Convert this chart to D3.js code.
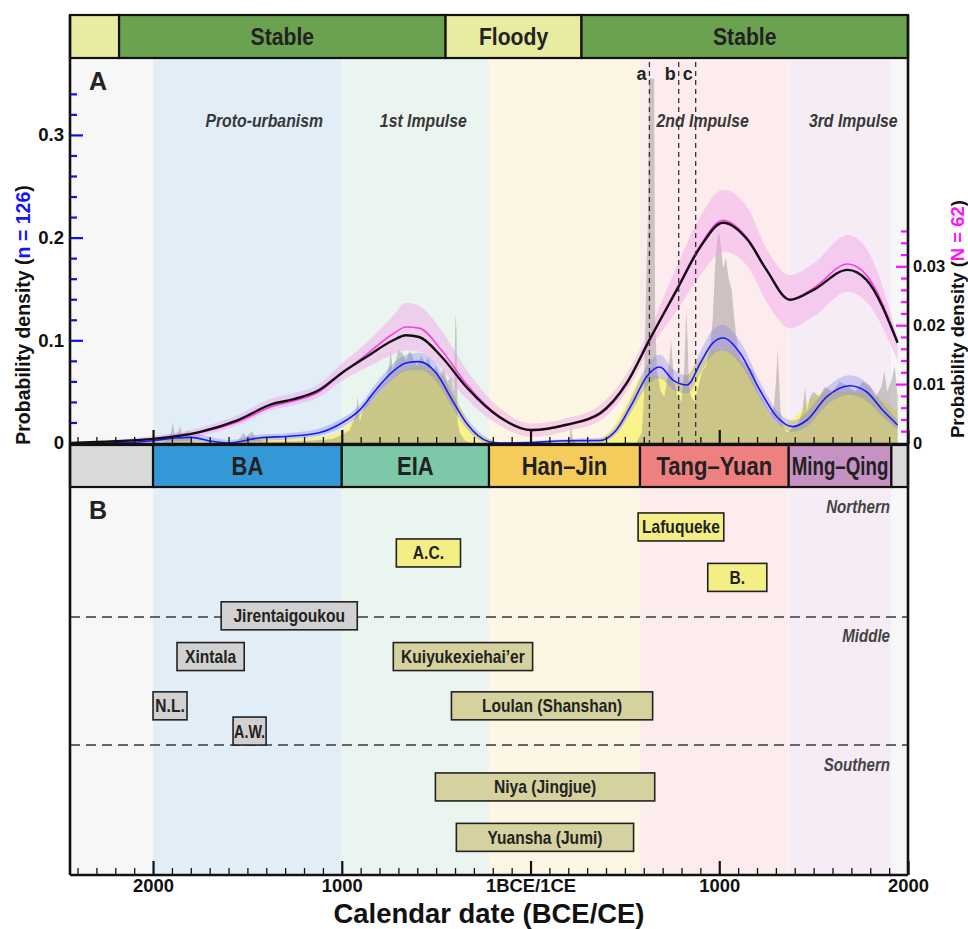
<!DOCTYPE html>
<html><head><meta charset="utf-8">
<script src="https://cdn.jsdelivr.net/npm/d3@7"></script>
<style>body{margin:0;background:#fff}svg{display:block}</style>
</head><body>
<svg id="chart" width="968" height="929"></svg>
<script>
// ---------------- DATA ----------------
const climateNames  = ["", "Stable", "Floody", "Stable"];
const climateStarts = [-2440, -2180, -450, 270];
const climateEnds   = [-2180, -450, 270, 2000];
const climateTypes  = ["floody", "stable", "floody", "stable"];

const periodNames  = ["", "BA", "EIA", "Han–Jin", "Tang–Yuan", "Ming–Qing", ""];
const periodStarts = [-2440, -2000, -1000, -220, 580, 1368, 1912];
const periodEnds   = [-2000, -1000, -220, 580, 1368, 1912, 2000];

const impulseNames = ["Proto-urbanism", "1st Impulse", "2nd Impulse", "3rd Impulse"];
const impulseYears = [-1411, -568, 912, 1710];

const eventNames = ["a", "b", "c"];
const eventYears = [630, 785, 875];

const xMajorTicks = [-2000, -1000, 0, 1000, 2000];
const leftTicks  = [0, 0.1, 0.2, 0.3];
const rightTicks = [0, 0.01, 0.02, 0.03];

// smoothed density (N = 62), right axis
const kdeYears = [-2440,-2200,-2000,-1750,-1550,-1370,-1260,-1120,-1000,-870,-730,-660,-590,-470,-340,-165,5,190,370,510,630,775,900,1020,1150,1250,1375,1500,1680,1780,1945];
const blackVals = [0,0.0003,0.0007,0.0019,0.0039,0.0066,0.0074,0.0090,0.0119,0.0146,0.0174,0.0183,0.0180,0.0146,0.0095,0.0044,0.0022,0.0031,0.0051,0.0102,0.0175,0.0260,0.0333,0.0374,0.0345,0.0294,0.0243,0.0260,0.0294,0.0277,0.0170];
const magentaVals = [0,0.0003,0.0007,0.0018,0.0036,0.0062,0.0071,0.0087,0.0118,0.0150,0.0185,0.0197,0.0195,0.0157,0.0100,0.0045,0.0021,0.0030,0.0049,0.0100,0.0175,0.0262,0.0336,0.0378,0.0347,0.0295,0.0244,0.0263,0.0304,0.0285,0.0172];
const pinkHi = [0,0.0006,0.0012,0.0026,0.0048,0.0076,0.0084,0.0100,0.0135,0.0170,0.0215,0.0238,0.0233,0.0190,0.0125,0.0060,0.0033,0.0042,0.0065,0.0118,0.0192,0.0300,0.0385,0.0430,0.0400,0.0330,0.0285,0.0305,0.0353,0.0330,0.0180];
const pinkLo = [0,0.0001,0.0003,0.0012,0.0030,0.0056,0.0064,0.0078,0.0105,0.0128,0.0150,0.0157,0.0155,0.0125,0.0075,0.0030,0.0010,0.0020,0.0038,0.0088,0.0158,0.0225,0.0285,0.0325,0.0300,0.0240,0.0195,0.0215,0.0257,0.0240,0.0140];

// smoothed density (n = 126), left axis
const blueYears = [-2440,-2150,-2000,-1880,-1800,-1700,-1600,-1440,-1260,-1120,-1000,-900,-820,-730,-660,-590,-500,-415,-340,-220,-160,10,190,370,455,540,615,685,755,830,900,965,1020,1110,1215,1305,1390,1465,1570,1690,1780,1865,1945];
const blueVals = [0,0.0005,0.0022,0.0050,0.0055,0.0020,0.0000,0.0049,0.0068,0.0100,0.0195,0.0330,0.0516,0.0694,0.0779,0.0792,0.0681,0.0418,0.0195,0.0013,0,0.0005,0.0022,0.0025,0.0127,0.0389,0.0646,0.0740,0.0613,0.0565,0.0779,0.0973,0.1022,0.0876,0.0516,0.0256,0.0159,0.0224,0.0451,0.0558,0.0499,0.0321,0.0175];
const blueHi = [0,0.002,0.005,0.009,0.010,0.006,0.003,0.008,0.010,0.014,0.024,0.038,0.058,0.077,0.086,0.088,0.077,0.049,0.025,0.004,0.001,0.002,0.004,0.005,0.017,0.046,0.075,0.086,0.072,0.066,0.089,0.110,0.115,0.099,0.060,0.032,0.022,0.030,0.054,0.066,0.059,0.039,0.022];
const blueLo = [0,0,0.000,0.002,0.002,0,0,0.002,0.004,0.007,0.015,0.028,0.046,0.062,0.070,0.071,0.060,0.035,0.014,0,0,0,0.001,0.001,0.009,0.032,0.055,0.063,0.052,0.048,0.068,0.086,0.090,0.077,0.044,0.020,0.011,0.016,0.037,0.047,0.041,0.026,0.013];

// yellow density, left axis
const yellowYears = [-2440,-1950,-1900,-1800,-1700,-1550,-1450,-1300,-1100,-1000,-900,-800,-700,-600,-500,-400,-300,-200,-150,150,200,300,400,500,600,700,780,850,950,1050,1150,1250,1320,1400,1500,1600,1700,1800,1945];
const yellowVals = [0,0,0.004,0.004,0.001,0.002,0.005,0.004,0.006,0.012,0.030,0.048,0.068,0.075,0.070,0.045,0.012,0.003,0,0,0.002,0.001,0.008,0.035,0.066,0.065,0.058,0.070,0.090,0.090,0.070,0.032,0.018,0.025,0.045,0.050,0.050,0.048,0.030];

// summed probability (grey), left axis
const sumYears = [-2440,-1950,-1910,-1895,-1885,-1870,-1855,-1845,-1830,-1815,-1805,-1790,-1760,
 -1560,-1535,-1520,-1505,-1490,-1475,-1455,-1430,-1400,
 -1200,-1050,-1000,-960,-930,-915,-905,-890,-860,-830,-800,-770,-750,-740,-730,-715,-700,-680,-660,-640,-620,-600,-580,-560,-540,-520,-500,-480,-460,-440,-420,-405,-398,-392,-386,-375,-350,-320,
 190,205,215,225,240,
 560,590,600,612,622,628,655,660,670,690,710,730,745,760,780,800,815,825,832,840,850,870,890,910,930,950,965,980,990,1000,1010,1020,1035,1050,1065,1080,1100,1120,1150,1180,1210,1240,1270,1290,1300,1310,1325,1340,1360,1390,1420,1440,1455,1465,1480,1500,1530,1560,1600,1640,1680,1720,1760,1800,1830,1860,1875,1890,1910,1930,1945];
const sumVals = [0,0,0.006,0.020,0.008,0.010,0.016,0.006,0.009,0.013,0.004,0.002,0,
 0,0.006,0.010,0.006,0.009,0.011,0.005,0.003,0.001,
 0.002,0.004,0.008,0.012,0.025,0.045,0.020,0.030,0.045,0.050,0.055,0.060,0.075,0.090,0.070,0.080,0.090,0.088,0.080,0.090,0.082,0.075,0.085,0.078,0.083,0.070,0.075,0.065,0.072,0.060,0.065,0.050,0.125,0.110,0.020,0.010,0.003,0,
 0,0.005,0.016,0.004,0,
 0,0.010,0.040,0.150,0.220,0.355,0.355,0.120,0.070,0.050,0.045,0.070,0.100,0.060,0.045,0.040,0.075,0.130,0.100,0.055,0.045,0.040,0.055,0.070,0.075,0.090,0.120,0.180,0.200,0.205,0.190,0.170,0.180,0.160,0.150,0.120,0.090,0.080,0.075,0.070,0.050,0.040,0.030,0.035,0.060,0.090,0.030,0.015,0.010,0.015,0.020,0.030,0.055,0.030,0.045,0.050,0.045,0.055,0.050,0.060,0.055,0.050,0.060,0.055,0.045,0.055,0.070,0.050,0.060,0.075,0.045];

// Panel B sites
const siteNames  = ["Lafuqueke","A.C.","B.","Jirentaigoukou","Xintala","Kuiyukexiehai’er","N.L.","Loulan (Shanshan)","A.W.","Niya (Jingjue)","Yuansha (Jumi)"];
const siteStarts = [570,-711,939,-1639,-1873,-727,-2000,-419,-1576,-504,-393];
const siteEnds   = [1024,-371,1252,-918,-1517,11,-1820,647,-1401,658,546];
const siteLevels = [10.3,17.0,23.3,33.2,43.7,43.7,56.4,56.4,62.9,77.3,90.3];
const siteGroups = ["north","north","north","grey","grey","khaki","grey","khaki","grey","khaki","khaki"];
const regionNames  = ["Northern","Middle","Southern"];
const regionLevels = [5.0, 38.2, 71.5];
const dividerLevels = [33.5, 66.5];

// ---------------- LAYOUT / STYLE ----------------
const L = 70, R = 908, climTop = 15, climBot = 58, aBot = 444, perTop = 445, perBot = 487, bBot = 875;
const sans = "'Liberation Sans',Arial,Helvetica,sans-serif";
const bgColors = ["#f7f7f7","#e1eef8","#ebf5ef","#fef6e4","#fdecee","#f6ecf5","#f7f7f7"];
const barColors = ["#d9d9d9","#3399d6","#7dc8a9","#f5cb5b","#ef8080","#c592c3","#d9d9d9"];
const climColors = {stable:"#6aa250", floody:"#e8eca1"};
const siteFill = {north:"#f4ef84", grey:"#d1d1d1", khaki:"#d6d2a0"};

const svg = d3.select("#chart");
const x = d3.scaleLinear().domain([-2440, 2000]).range([L, R]);
const yL = d3.scaleLinear().domain([0, 0.375]).range([443, 57.9]);
const yR = d3.scaleLinear().domain([0, 0.0654]).range([443, 57.8]);
const yB = d3.scaleLinear().domain([0, 100]).range([perBot, bBot]);

// condensed text helper
function ctext(px, py, str, size, sx, anchor, opts = {}) {
  const t = svg.append("text").attr("transform", `translate(${px},${py}) scale(${sx},1)`)
    .attr("text-anchor", anchor).attr("font-family", sans).attr("font-weight", opts.weight || "bold")
    .attr("font-style", opts.style || "normal").attr("font-size", size).attr("fill", opts.fill || "#222").text(str);
  if (opts.maxW) {
    const len = t.node().getComputedTextLength();
    if (len * sx > opts.maxW) t.attr("textLength", opts.maxW / sx).attr("lengthAdjust", "spacingAndGlyphs");
  }
  return t;
}

// backgrounds
const bg = svg.append("g");
periodNames.forEach((n, i) => {
  bg.append("rect").attr("x", x(periodStarts[i])).attr("y", climBot)
    .attr("width", x(periodEnds[i]) - x(periodStarts[i])).attr("height", aBot - climBot).attr("fill", bgColors[i]);
  bg.append("rect").attr("x", x(periodStarts[i])).attr("y", perBot)
    .attr("width", x(periodEnds[i]) - x(periodStarts[i])).attr("height", bBot - perBot).attr("fill", bgColors[i]);
});

// clip
svg.append("clipPath").attr("id", "clipA").append("rect").attr("x", L).attr("y", climBot).attr("width", R - L).attr("height", aBot - climBot);
const gA = svg.append("g").attr("clip-path", "url(#clipA)");

// yellow area
gA.append("path").datum(yellowYears.map((d, i) => [d, yellowVals[i]]))
  .attr("d", d3.area().x(d => x(d[0])).y0(yL(0)).y1(d => yL(d[1])).curve(d3.curveMonotoneX))
  .attr("fill", "#f8f27a").attr("fill-opacity", 0.85);

// grey summed probability
gA.append("path").datum(sumYears.map((d, i) => [d, sumVals[i]]))
  .attr("d", d3.area().x(d => x(d[0])).y0(yL(0)).y1(d => yL(d[1])).curve(d3.curveLinear))
  .attr("fill", "#8c8884").attr("fill-opacity", 0.42);

// pink band
gA.append("path").datum(kdeYears.map((d, i) => [d, pinkLo[i], pinkHi[i]]))
  .attr("d", d3.area().x(d => x(d[0])).y0(d => yR(d[1])).y1(d => yR(d[2])).curve(d3.curveMonotoneX))
  .attr("fill", "#f19ae6").attr("fill-opacity", 0.42);

// blue band
gA.append("path").datum(blueYears.map((d, i) => [d, blueLo[i], blueHi[i]]))
  .attr("d", d3.area().x(d => x(d[0])).y0(d => yL(d[1])).y1(d => yL(d[2])).curve(d3.curveMonotoneX))
  .attr("fill", "#7070e8").attr("fill-opacity", 0.3);

// blue line
gA.append("path").datum(blueYears.map((d, i) => [d, blueVals[i]]))
  .attr("d", d3.line().x(d => x(d[0])).y(d => yL(d[1])).curve(d3.curveMonotoneX))
  .attr("fill", "none").attr("stroke", "#1a1aff").attr("stroke-width", 1.6);

// magenta line
gA.append("path").datum(kdeYears.map((d, i) => [d, magentaVals[i]]))
  .attr("d", d3.line().x(d => x(d[0])).y(d => yR(d[1])).curve(d3.curveMonotoneX))
  .attr("fill", "none").attr("stroke", "#ff3ee0").attr("stroke-width", 1.6);

// black line
gA.append("path").datum(kdeYears.map((d, i) => [d, blackVals[i]]))
  .attr("d", d3.line().x(d => x(d[0])).y(d => yR(d[1])).curve(d3.curveMonotoneX))
  .attr("fill", "none").attr("stroke", "#111").attr("stroke-width", 2.4);

// event lines
eventYears.forEach((yr, i) => {
  svg.append("line").attr("x1", x(yr)).attr("x2", x(yr)).attr("y1", 62).attr("y2", aBot)
    .attr("stroke", "#333").attr("stroke-width", 1.3).attr("stroke-dasharray", "5,4");
  ctext(x(yr) - 3, 80, eventNames[i], 18, 1, "end");
});

// impulse labels
impulseNames.forEach((n, i) => {
  ctext(x(impulseYears[i]), 127, n, 18.6, 0.85, "middle", {style: "italic", fill: "#383838"});
});

// climate bar
climateNames.forEach((n, i) => {
  svg.append("rect").attr("x", x(climateStarts[i])).attr("y", climTop)
    .attr("width", x(climateEnds[i]) - x(climateStarts[i])).attr("height", climBot - climTop)
    .attr("fill", climColors[climateTypes[i]]).attr("stroke", "#111").attr("stroke-width", 2.2);
  if (n) ctext((x(climateStarts[i]) + x(climateEnds[i])) / 2, 45, n, 23, 0.92, "middle");
});

// period bar
periodNames.forEach((n, i) => {
  const w = x(periodEnds[i]) - x(periodStarts[i]);
  svg.append("rect").attr("x", x(periodStarts[i])).attr("y", perTop)
    .attr("width", w).attr("height", perBot - perTop)
    .attr("fill", barColors[i]).attr("stroke", "#111").attr("stroke-width", 2.2);
  if (n) ctext((x(periodStarts[i]) + x(periodEnds[i])) / 2, 475, n, 25, 0.88, "middle", {maxW: w - 6});
});

// panel B dividers
dividerLevels.forEach(l => {
  svg.append("line").attr("x1", L).attr("x2", R).attr("y1", yB(l)).attr("y2", yB(l))
    .attr("stroke", "#666").attr("stroke-width", 2.2).attr("stroke-dasharray", "10,6");
});
regionNames.forEach((n, i) => {
  ctext(890, yB(regionLevels[i]) + 7, n, 18, 0.84, "end", {style: "italic", fill: "#444"});
});

// site boxes
siteNames.forEach((n, i) => {
  const x0 = x(siteStarts[i]), x1 = x(siteEnds[i]), yc = yB(siteLevels[i]);
  svg.append("rect").attr("x", x0).attr("y", yc - 14).attr("width", x1 - x0).attr("height", 28)
    .attr("fill", siteFill[siteGroups[i]]).attr("stroke", "#222").attr("stroke-width", 1.6);
  ctext((x0 + x1) / 2, yc + 6.5, n, 17.7, 0.88, "middle", {maxW: x1 - x0 - 2});
});

// panel letters
ctext(89, 90, "A", 25, 1, "start");
ctext(89, 519, "B", 25, 1, "start");

// x axes
const minorX = d3.range(-2400, 2001, 100).filter(d => !xMajorTicks.includes(d));
const fmtX = d => d === 0 ? "1BCE/1CE" : String(Math.abs(d));
[aBot, bBot].forEach((yy, k) => {
  const gMin = svg.append("g").attr("transform", `translate(0,${yy})`)
    .call(d3.axisBottom(x).tickValues(minorX).tickSize(-7).tickFormat(""));
  gMin.select(".domain").remove();
  gMin.selectAll("line").attr("stroke", "#111").attr("stroke-width", 1.3);
  const gMaj = svg.append("g").attr("transform", `translate(0,${yy})`)
    .call(d3.axisBottom(x).tickValues(xMajorTicks).tickSize(-14).tickPadding(4).tickFormat(k ? fmtX : ""));
  gMaj.select(".domain").remove();
  gMaj.selectAll("line").attr("stroke", "#111").attr("stroke-width", 2.2);
  gMaj.selectAll("text").attr("font-family", sans).attr("font-weight", "bold").attr("font-size", 19)
    .attr("fill", "#111").attr("transform", "scale(0.97,1)");
});
svg.append("line").attr("x1", L).attr("x2", R).attr("y1", aBot).attr("y2", aBot).attr("stroke", "#111").attr("stroke-width", 2.6);
svg.append("line").attr("x1", L).attr("x2", R).attr("y1", bBot).attr("y2", bBot).attr("stroke", "#111").attr("stroke-width", 2.6);

// left axis
const minorL = d3.range(1, 18).map(i => +(i * 0.02).toFixed(2)).filter(d => ![0.1, 0.2, 0.3].includes(d));
const gL1 = svg.append("g").attr("transform", `translate(${L},0)`)
  .call(d3.axisLeft(yL).tickValues(minorL).tickSize(-7).tickFormat(""));
gL1.select(".domain").remove();
gL1.selectAll("line").attr("stroke", "#1010ee").attr("stroke-width", 2.2);
const gL2 = svg.append("g").attr("transform", `translate(${L},0)`)
  .call(d3.axisLeft(yL).tickValues(leftTicks).tickSize(-13).tickPadding(6).tickFormat(d => d === 0 ? "0" : d3.format(".1f")(d)));
gL2.select(".domain").remove();
gL2.selectAll("line").attr("stroke", "#1010ee").attr("stroke-width", 2.2).filter(d => d === 0).remove();
gL2.selectAll("text").attr("font-family", sans).attr("font-weight", "bold").attr("font-size", 18.6).attr("fill", "#111");

// right axis
const minorR = d3.range(1, 19).map(i => +(i * 0.002).toFixed(3)).filter(d => ![0.01, 0.02, 0.03].includes(d));
const gR1 = svg.append("g").attr("transform", `translate(${R},0)`)
  .call(d3.axisRight(yR).tickValues(minorR).tickSize(-7).tickFormat(""));
gR1.select(".domain").remove();
gR1.selectAll("line").attr("stroke", "#ff10ff").attr("stroke-width", 2.2);
const gR2 = svg.append("g").attr("transform", `translate(${R},0)`)
  .call(d3.axisRight(yR).tickValues(rightTicks).tickSize(-12).tickPadding(5).tickFormat(d => d === 0 ? "0" : d3.format(".2f")(d)));
gR2.select(".domain").remove();
gR2.selectAll("line").attr("stroke", "#ff10ff").attr("stroke-width", 2.2).filter(d => d === 0).remove();
gR2.selectAll("text").attr("font-family", sans).attr("font-weight", "bold").attr("font-size", 16.5).attr("fill", "#111");

// frame verticals
svg.append("line").attr("x1", L).attr("x2", L).attr("y1", climTop).attr("y2", bBot).attr("stroke", "#111").attr("stroke-width", 2.6);
svg.append("line").attr("x1", R).attr("x2", R).attr("y1", climTop).attr("y2", bBot).attr("stroke", "#111").attr("stroke-width", 2.6);

// axis titles
const tl = svg.append("text").attr("transform", "translate(30,315) rotate(-90)").attr("text-anchor", "middle")
  .attr("font-family", sans).attr("font-weight", "bold").attr("font-size", 19.5).attr("fill", "#111");
tl.append("tspan").text("Probability density (");
tl.append("tspan").attr("fill", "#1414ff").text("n = 126");
tl.append("tspan").text(")");
const tr = svg.append("text").attr("transform", "translate(964,319) rotate(-90)").attr("text-anchor", "middle")
  .attr("font-family", sans).attr("font-weight", "bold").attr("font-size", 18.5).attr("fill", "#111");
tr.append("tspan").text("Probability density (");
tr.append("tspan").attr("fill", "#ff10ff").text("N = 62");
tr.append("tspan").text(")");
ctext(489, 922.5, "Calendar date (BCE/CE)", 28, 0.98, "middle", {fill: "#111"});
</script>
</body></html>
